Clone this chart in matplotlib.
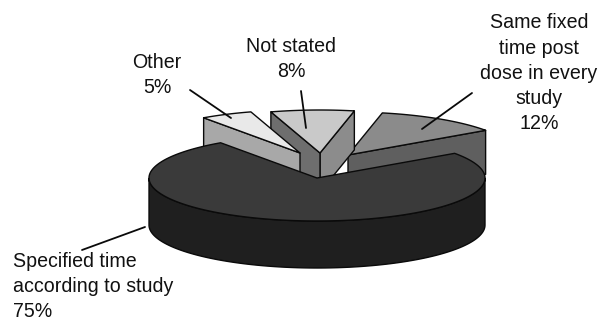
import numpy as np
import matplotlib
matplotlib.use("Agg")
import matplotlib.pyplot as plt
from matplotlib.patches import Polygon

plt.rcParams["font.family"] = ["Liberation Sans", "DejaVu Sans"]

# Survey shares, in percent, going counter-clockwise from the first slice
categories = ["Same fixed\ntime post\ndose in every\nstudy",
              "Not stated", "Other",
              "Specified time\naccording to study"]
shares = [12, 8, 5, 75]

START_ANGLE = 35.0
RX, RY = 168.0, 43.0

# Per-slice drawing styles: apex position, wall height and greys for each surface
apex = [(348, 155), (320, 153), (300, 153), (317, 178)]
depth = [44, 39, 44, 47]
top_col = ["#8b8b8b", "#c9c9c9", "#e9e9e9", "#3a3a3a"]
cut_cw = ["#5f5f5f", "#8c8c8c", "#a8a8a8", "#1f1f1f"]
cut_ccw = ["#5f5f5f", "#6e6e6e", "#a8a8a8", "#1f1f1f"]
rim_col = ["#5f5f5f", "#8c8c8c", "#a8a8a8", "#1f1f1f"]

fig = plt.figure(figsize=(5.99, 3.21), dpi=100)
ax = fig.add_axes([0, 0, 1, 1])
ax.set_xlim(0, 599)
ax.set_ylim(321, 0)
ax.axis("off")

edges = START_ANGLE + np.cumsum([0] + shares) * 3.6


def rim_points(cx, cy, a0, a1):
    t = np.radians(np.linspace(a0, a1, 200))
    return np.column_stack([cx + RX * np.cos(t), cy - RY * np.sin(t)])


def face(points, colour, z):
    ax.add_patch(Polygon(points, closed=True, facecolor=colour, edgecolor="#0a0a0a",
                         linewidth=1.0, joinstyle="round", zorder=z))


for i in range(len(shares)):
    a0, a1 = edges[i], edges[i + 1]
    cx, cy = apex[i]
    arc = rim_points(cx, cy, a0, a1)
    drop = np.array([0, depth[i]])
    centre = np.array([cx, cy])
    base = i * 10 + 2

    # A cut face shows only when its outward normal points towards the viewer
    if np.sin(np.radians(a0 - 90)) < 0:
        face([centre, arc[0], arc[0] + drop, centre + drop], cut_cw[i], base)
    if np.sin(np.radians(a1 + 90)) < 0:
        face([centre, arc[-1], arc[-1] + drop, centre + drop], cut_ccw[i], base)

    # Outer wall, only where it turns towards the viewer
    front = arc[np.sin(np.radians(np.linspace(a0, a1, 200))) <= 0.0]
    if len(front):
        face(np.vstack([front, front[::-1] + drop]), rim_col[i], base + 1)

    # Top surface
    face(np.vstack([centre, arc]), top_col[i], base + 2)

# Slice labels, placed by the baseline of their last line
label_fs = 14.1
spacing = 1.41
text_kw = dict(va="baseline", fontsize=label_fs, linespacing=spacing,
               color="#111111", zorder=60)
ax.text(539, 129, categories[0] + f"\n{shares[0]}%", ha="center", **text_kw)
ax.text(291, 77, categories[1] + f"\n{shares[1]}%", ha="center", **text_kw)
ax.text(157, 93, categories[2] + f"\n{shares[2]}%", ha="center", **text_kw)
ax.text(13, 317, categories[3] + f"\n{shares[3]}%", ha="left", **text_kw)

# Leader lines
leaders = [((472, 93), (422, 129)), ((301, 91), (306, 128)),
           ((190, 90), (231, 118)), ((145, 227), (82, 250))]
for (x0, y0), (x1, y1) in leaders:
    ax.plot([x0, x1], [y0, y1], color="#0a0a0a", lw=1.3, zorder=61, solid_capstyle="round")

fig.savefig("out.png", dpi=100, facecolor="white")
